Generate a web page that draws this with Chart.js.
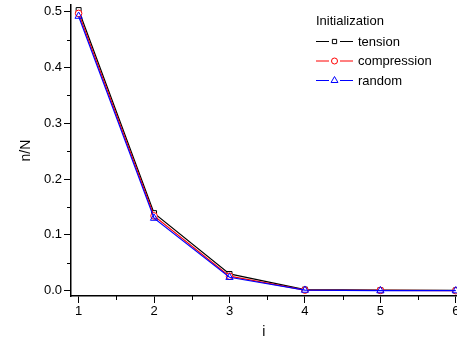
<!DOCTYPE html>
<html>
<head>
<meta charset="utf-8">
<script src="https://cdn.jsdelivr.net/npm/chart.js@4.4.0/dist/chart.umd.min.js"></script>
<style>
  html, body { margin: 0; padding: 0; background: #fff; overflow: hidden; }
  #wrap { width: 462px; height: 345px; position: relative; }
</style>
</head>
<body>
<div id="wrap"><canvas id="chart"></canvas></div>
<script>
// values
const steps = [1, 2, 3, 4, 5, 6];
const tension = [0.503, 0.139, 0.030, 0.002, 0.001, 0.0005];
const compression = [0.497, 0.134, 0.026, 0.001, 0.0005, 0.0];
const random = [0.492, 0.130, 0.024, 0.001, 0.0, 0.0];
const legendTitle = 'Initialization';
const seriesNames = ['tension', 'compression', 'random'];

const FONT = '"Liberation Sans", Arial, sans-serif';

const toPoints = arr => steps.map((s, i) => ({ x: s, y: arr[i] }));

const isMajor = (v, step) => Math.abs(v / step - Math.round(v / step)) < 1e-6;

// minor ticks are drawn shorter than the major ones
const minorTicks = {
    id: 'minorTicks',
    afterDraw(chart) {
        const ctx = chart.ctx;
        const xs = chart.scales.x, ys = chart.scales.y;
        ctx.save();
        ctx.strokeStyle = '#000';
        ctx.lineWidth = 1;
        ctx.beginPath();
        xs.ticks.forEach(t => {
            if (isMajor(t.value, 1)) return;
            const px = Math.round(xs.getPixelForValue(t.value)) + 0.5;
            ctx.moveTo(px, xs.top);
            ctx.lineTo(px, xs.top + 4);
        });
        ys.ticks.forEach(t => {
            if (isMajor(t.value, 0.1)) return;
            const py = Math.round(ys.getPixelForValue(t.value)) + 0.5;
            ctx.moveTo(ys.right, py);
            ctx.lineTo(ys.right - 4, py);
        });
        ctx.stroke();
        ctx.restore();
    }
};

// legend in the style of the original: line - marker - line, then name
const sampleLegend = {
    id: 'sampleLegend',
    afterDraw(chart) {
        const ctx = chart.ctx;
        ctx.save();
        ctx.font = '13px ' + FONT;
        ctx.fillStyle = '#000';
        ctx.textBaseline = 'middle';
        ctx.fillText(legendTitle, 316, 21);
        chart.data.datasets.slice().sort((a, b) => b.order - a.order).forEach((ds, i) => {
            const y = 41 + i * 19.5;
            ctx.strokeStyle = ds.borderColor;
            ctx.lineWidth = 1;
            ctx.beginPath();
            ctx.moveTo(316, y + 0.5);
            ctx.lineTo(329, y + 0.5);
            ctx.moveTo(340, y + 0.5);
            ctx.lineTo(353, y + 0.5);
            ctx.stroke();
            ctx.fillStyle = '#fff';
            Chart.helpers.drawPoint(ctx, {
                pointStyle: ds.pointStyle,
                radius: ds.legendRadius,
                borderWidth: 1
            }, 334.5, y + 0.5);
            ctx.fillStyle = '#000';
            ctx.fillText(ds.label, 358, y + 1);
        });
        ctx.restore();
    }
};

new Chart(document.getElementById('chart'), {
    type: 'line',
    data: {
        datasets: [
            {
                label: seriesNames[0], data: toPoints(tension), order: 2,
                borderColor: '#000000', backgroundColor: '#ffffff',
                pointStyle: 'rect', pointRadius: 3.5, legendRadius: 3,
                pointBorderWidth: 1, borderWidth: 1.2
            },
            {
                label: seriesNames[1], data: toPoints(compression), order: 1,
                borderColor: '#ff0000', backgroundColor: '#ffffff',
                pointStyle: 'circle', pointRadius: 3.3, legendRadius: 3,
                pointBorderWidth: 1, borderWidth: 1.2
            },
            {
                label: seriesNames[2], data: toPoints(random), order: 0,
                borderColor: '#0000ff', backgroundColor: 'rgba(255,255,255,0)',
                pointStyle: 'triangle', pointRadius: 4.2, legendRadius: 4,
                pointBorderWidth: 1, borderWidth: 1.2
            }
        ]
    },
    options: {
        responsive: true,
        maintainAspectRatio: false,
        animation: false,
        layout: { padding: { top: 5, right: 0, left: 0, bottom: 0 } },
        plugins: { legend: { display: false }, tooltip: { enabled: false } },
        scales: {
            x: {
                type: 'linear',
                min: 0.899,
                max: 6.013,
                border: { display: true, color: '#000', width: 1.5 },
                grid: {
                    drawOnChartArea: false, tickLength: 7,
                    tickColor: c => isMajor(c.tick.value, 1) ? '#000' : 'rgba(0,0,0,0)'
                },
                ticks: {
                    stepSize: 0.5, includeBounds: false, autoSkip: false,
                    maxRotation: 0, color: '#000', padding: 1,
                    font: { family: FONT, size: 13 },
                    callback: v => isMajor(v, 1) ? String(Math.round(v)) : ''
                },
                title: {
                    display: true, text: 'i', color: '#000', padding: { top: 5 },
                    font: { family: FONT, size: 14 }
                },
                afterFit(scale) { scale.height = 49; }
            },
            y: {
                min: -0.0095,
                max: 0.5117,
                border: { display: true, color: '#000', width: 1.5 },
                grid: {
                    drawOnChartArea: false, tickLength: 7,
                    tickColor: c => isMajor(c.tick.value, 0.1) ? '#000' : 'rgba(0,0,0,0)'
                },
                ticks: {
                    stepSize: 0.05, includeBounds: false, autoSkip: false,
                    color: '#000', padding: 2,
                    font: { family: FONT, size: 13 },
                    callback: v => isMajor(v, 0.1) ? v.toFixed(1) : ''
                },
                title: {
                    display: true, text: 'n/N', color: '#000', padding: { top: 18, bottom: 0 },
                    font: { family: FONT, size: 14 }
                },
                afterFit(scale) { scale.width = 71; scale.paddingTop = 0; scale.paddingBottom = 0; }
            }
        }
    },
    plugins: [minorTicks, sampleLegend]
});
</script>
</body>
</html>
